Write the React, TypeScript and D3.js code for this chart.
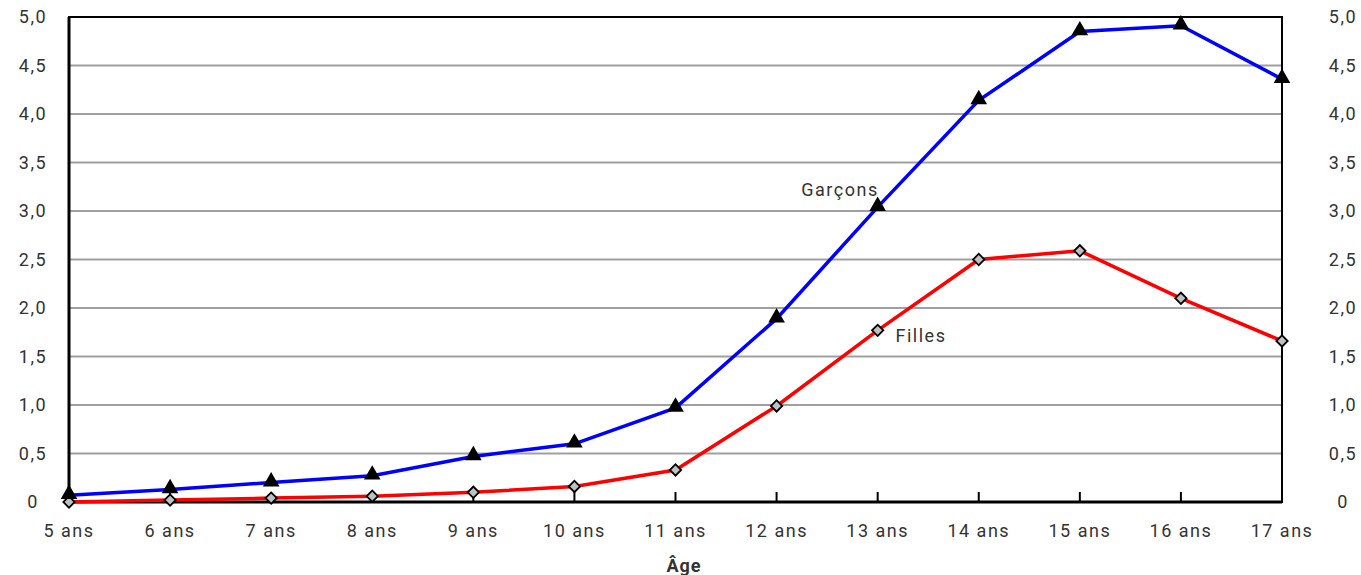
import React from "react";
import * as d3 from "d3";

const categories = ["5 ans","6 ans","7 ans","8 ans","9 ans","10 ans","11 ans","12 ans","13 ans","14 ans","15 ans","16 ans","17 ans"];
const garcons = [0.07,0.13,0.2,0.27,0.47,0.6,0.97,1.89,3.04,4.14,4.85,4.91,4.36];
const filles = [0.0,0.02,0.04,0.06,0.1,0.16,0.33,0.99,1.77,2.5,2.59,2.1,1.66];
const yTicks = [0,0.5,1,1.5,2,2.5,3,3.5,4,4.5,5];

const W = 1361, H = 575;
const L = 69, R = 1282, T = 17, B = 502;
const FONT = "'Liberation Sans Narrow', 'Roboto', sans-serif";

const fmt = (v: number) => (v === 0 ? "0" : v.toFixed(1).replace(".", ","));

export default function App() {
  const x = d3.scalePoint<string>().domain(categories).range([L, R]);
  const y = d3.scaleLinear().domain([0, 5]).range([B, T]);
  const line = d3.line<number>().x((_, i) => x(categories[i])!).y((v) => y(v));
  const tri = d3.symbol().type(d3.symbolTriangle).size(120)()!;
  const sq = d3.symbol().type(d3.symbolSquare).size(64)()!;

  return (
    <svg width={W} height={H} style={{ position: "absolute", left: 0, top: 0, background: "#fff" }}>
      {yTicks.filter(t => t > 0 && t < 5).map(t => (
        <line key={t} x1={L} x2={R} y1={y(t)} y2={y(t)} stroke="#a0a0a0" strokeWidth={2} />
      ))}
      <rect x={L} y={T} width={R - L} height={B - T} fill="none" stroke="#000" strokeWidth={2} />
      <line x1={L} x2={L} y1={T} y2={B} stroke="#000" strokeWidth={3} />
      <line x1={L} x2={R} y1={B} y2={B} stroke="#000" strokeWidth={3} />
      {categories.map(c => (
        <line key={c} x1={x(c)} x2={x(c)} y1={B} y2={B - 10} stroke="#000" strokeWidth={2} />
      ))}
      {yTicks.map(t => (
        <g key={t} fontFamily={FONT} fontSize={18} fill="#333" textAnchor="middle" letterSpacing={1.5}>
          <text x={33} y={y(t) + 6}>{fmt(t)}</text>
          <text x={1343} y={y(t) + 6}>{fmt(t)}</text>
        </g>
      ))}
      {categories.map(c => (
        <text key={c} x={x(c)} y={537} fontFamily={FONT} fontSize={18} fill="#333" textAnchor="middle" letterSpacing={1.5}>{c}</text>
      ))}
      <text x={684} y={572} fontFamily={FONT} fontSize={18} fontWeight="bold" fill="#333" textAnchor="middle" letterSpacing={1}>Âge</text>
      <path d={line(filles)!} fill="none" stroke="#ff0000" strokeWidth={3.5} />
      <path d={line(garcons)!} fill="none" stroke="#0000ff" strokeWidth={3.5} />
      {filles.map((v, i) => (
        <path key={i} d={sq} transform={`translate(${x(categories[i])},${y(v)}) rotate(45)`} fill="#c0c0c0" stroke="#000" strokeWidth={1.8} />
      ))}
      {garcons.map((v, i) => (
        <path key={i} d={tri} transform={`translate(${x(categories[i])},${y(v) - 1})`} fill="#000" />
      ))}
      <text x={840} y={196} fontFamily={FONT} fontSize={18} fill="#333" textAnchor="middle" letterSpacing={1.5}>Garçons</text>
      <text x={921} y={342} fontFamily={FONT} fontSize={18} fill="#333" textAnchor="middle" letterSpacing={1.5}>Filles</text>
    </svg>
  );
}
